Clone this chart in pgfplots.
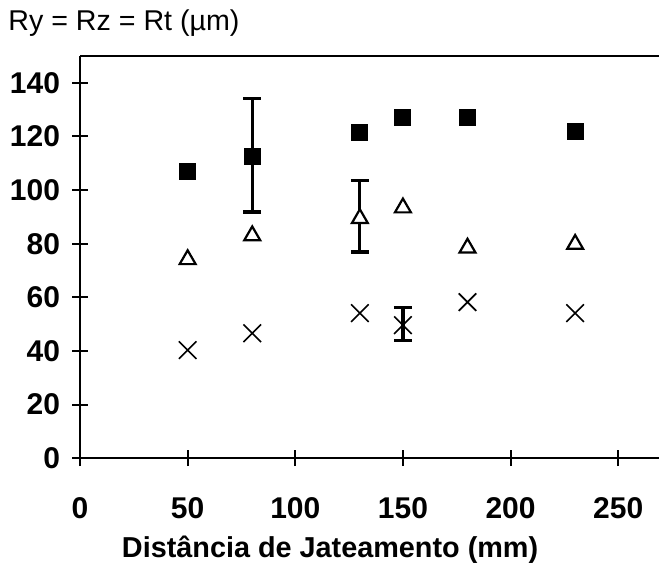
\documentclass[border=0pt]{standalone}
\usepackage{pgfplots}
\pgfplotsset{compat=1.18}
\usepackage{fontspec}
\setmainfont{Liberation Sans}
\begin{document}
\begin{tikzpicture}
\begin{axis}[
  name=ax,
  x=1.076pt, y=1.34pt,
  xmin=0, xmax=269, ymin=0, ymax=150,
  axis x line*=bottom, axis y line*=left,
  axis line style={line width=1.3pt},
  xtick={0,50,...,250}, ytick={0,20,...,140},
  tick align=center, major tick length=8pt,
  every tick/.style={black, line width=1pt},
  /pgf/number format/assume math mode=true,
  tick label style={font=\fontsize{15}{15}\selectfont\bfseries},
  xticklabel style={yshift=-12pt},
  yticklabel style={xshift=-2.5pt},
  clip=false,
]
\coordinate (O) at (axis cs:0,0);
\draw[line width=1.3pt] (rel axis cs:0,1) -- (rel axis cs:1,1);
% error bars
\addplot[black, mark=none, forget plot,
  error bars/.cd, y dir=both, y explicit,
  error bar style={line width=1.6pt, black},
  error mark=-,
  error mark options={rotate=90, mark size=4.5pt, line width=1.6pt, black}]
  coordinates {(80,112.7) += (0,21.6) -= (0,20.9)};
\addplot[black, mark=none, forget plot,
  error bars/.cd, y dir=both, y explicit,
  error bar style={line width=1.6pt, black},
  error mark=-,
  error mark options={rotate=90, mark size=4.5pt, line width=1.6pt, black}]
  coordinates {(130,89.4) += (0,14.3) -= (0,12.5)};
\addplot[black, mark=none, forget plot,
  error bars/.cd, y dir=both, y explicit,
  error bar style={line width=1.6pt, black},
  error mark=-,
  error mark options={rotate=90, mark size=4.5pt, line width=1.6pt, black}]
  coordinates {(150,49.6) += (0,6.7) -= (0,5.6)};
% Ry squares
\addplot[only marks, mark=square*, mark size=4pt, mark options={fill=black, draw=black, line width=0.5pt}]
  coordinates {(50,106.8) (80,112.7) (130,121.4) (150,127) (180,127) (230,122)};
% Rz triangles
\addplot[only marks, mark=triangle*, mark size=4.6pt, mark options={fill=white, draw=black, line width=1.1pt}]
  coordinates {(50,74.1) (80,83) (130,89.4) (150,93.4) (180,78.4) (230,79.8)};
% Rt crosses
\addplot[only marks, mark=x, mark size=6.2pt, mark options={draw=black, line width=0.8pt}]
  coordinates {(50,40.3) (80,46.6) (130,54.1) (150,49.6) (180,58.2) (230,54.1)};
\end{axis}
\node[anchor=base west, inner sep=0pt, font=\fontsize{14.3}{14.3}\selectfont] at ([shift={(-36pt,214pt)}]O) {Ry = Rz = Rt (µm)};
\node[anchor=center, inner sep=0pt, font=\fontsize{14.4}{14.4}\selectfont\bfseries] at ([shift={(125pt,-46pt)}]O) {Distância de Jateamento (mm)};
\pgfresetboundingbox
\path[use as bounding box] ([shift={(-40pt,-56pt)}]O) rectangle ([shift={(289.4pt,229pt)}]O);
\end{tikzpicture}
\end{document}
